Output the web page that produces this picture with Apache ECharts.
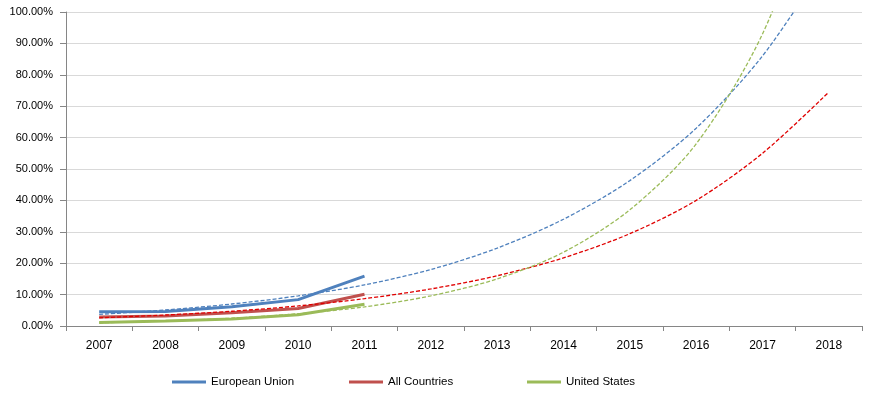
<!DOCTYPE html>
<html><head><meta charset="utf-8">
<script src="https://cdn.jsdelivr.net/npm/echarts@6/dist/echarts.min.js"></script>
<style>html,body{margin:0;padding:0;background:#fff}#c{width:870px;height:393px}</style>
</head><body><div id="c"></div>
<script>
var years = ['2007','2008','2009','2010','2011','2012','2013','2014','2015','2016','2017','2018'];
var euValues = [4.5, 4.6, 6.1, 8.4, 15.9];
var allValues = [2.9, 3.2, 4.2, 5.6, 10.1];
var usValues = [1.1, 1.6, 2.2, 3.6, 6.9];
var euTrend = [3.7, 5.1, 7.0, 9.6, 13.1, 18.0, 24.8, 34.0, 46.3, 63.0, 86.0, 117];
var allTrend = [2.6, 3.5, 4.7, 6.4, 8.7, 11.8, 16.0, 21.7, 29.4, 40.0, 55.0, 74.5];
var usTrend = [1.0, 1.6, 2.5, 3.9, 6.1, 9.6, 15.0, 23.5, 37.0, 58.0, 93.0, 148];
var yTicks = [0, 10, 20, 30, 40, 50, 60, 70, 80, 90, 100];
var legendNames = ['European Union', 'All Countries', 'United States'];
var legendLefts = [172, 349, 527];

var font = 'Liberation Sans';
var chart = echarts.init(document.getElementById('c'), null, {renderer: 'canvas'});
function solid(name, data, color) {
  return {name: name, type: 'line', data: data, symbol: 'none', z: 3,
    lineStyle: {color: color, width: 3}, itemStyle: {color: color}};
}
function trend(name, data, color) {
  return {name: name, type: 'line', data: data, symbol: 'none', smooth: 0.3, z: 4,
    lineStyle: {color: color, width: 1.3, type: [4, 2]}, itemStyle: {color: color}};
}
chart.setOption({
  animation: false,
  textStyle: {fontFamily: font},
  grid: {left: 66, right: 8, top: 12, bottom: 67},
  legend: legendNames.map(function (n, i) {
    return {data: [n], left: legendLefts[i], top: 376, padding: 0,
      itemWidth: 34, itemHeight: 3, icon: 'rect',
      textStyle: {fontFamily: font, fontSize: 11.5, color: '#000'}};
  }),
  xAxis: {
    type: 'category', data: years, boundaryGap: true,
    axisLine: {show: true, lineStyle: {color: '#868686', width: 1}},
    axisTick: {show: true, length: 5, interval: 0, lineStyle: {color: '#868686'}},
    axisLabel: {color: '#000', fontSize: 12, fontFamily: font, margin: 14, interval: 0},
    splitLine: {show: false}
  },
  yAxis: {
    type: 'value', min: yTicks[0], max: yTicks[yTicks.length-1], interval: 10,
    axisLine: {show: true, lineStyle: {color: '#868686', width: 1}},
    axisTick: {show: true, length: 6, lineStyle: {color: '#868686'}},
    axisLabel: {color: '#000', fontSize: 11, fontFamily: font, margin: 13,
      formatter: function (v) { return v.toFixed(2) + '%'; }},
    splitLine: {show: true, lineStyle: {color: '#d9d9d9', width: 1}}
  },
  series: [
    solid('European Union', euValues, '#4f81bd'),
    solid('All Countries', allValues, '#c0504d'),
    solid('United States', usValues, '#9bbb59'),
    trend('EU trend', euTrend, '#4f81bd'),
    trend('All trend', allTrend, '#e00000'),
    trend('US trend', usTrend, '#9bbb59')
  ]
});
</script></body></html>
